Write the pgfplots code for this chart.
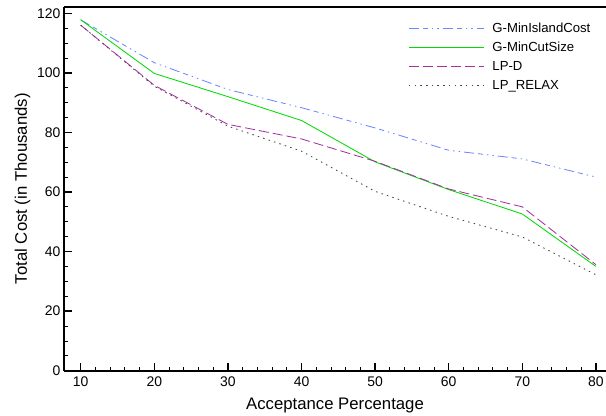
\documentclass[border=0pt]{standalone}
\usepackage{pgfplots}
\pgfplotsset{compat=1.18}
\usepackage{fontspec}
\setmainfont{Liberation Sans}
\definecolor{cblue}{RGB}{110,135,255}
\definecolor{cgreen}{RGB}{0,220,0}
\definecolor{cpurple}{RGB}{165,50,165}
\definecolor{cdot}{RGB}{70,70,70}
\begin{document}
\begin{tikzpicture}
\begin{axis}[
  at={(0,0)}, anchor=south west,
  scale only axis, width=542bp, height=364bp,
  xmin=7.73, xmax=81.37, ymin=0, ymax=122.2,
  axis x line*=bottom, axis y line*=left,
  axis line style={-, line width=1.8pt},
  xtick={10,20,...,80}, minor x tick num=4,
  ytick={0,20,...,120}, minor y tick num=3,
  tick align=inside,
  major tick length=8bp, minor tick length=4bp,
  major tick style={line width=1.4pt, black},
  minor tick style={line width=0.8pt, black},
  /pgf/number format/assume math mode=true,
  ticklabel style={font=\fontsize{14}{14}\selectfont},
  xticklabel style={yshift=-3bp},
  xlabel={Acceptance Percentage},
  ylabel={Total Cost (in Thousands)},
  label style={font=\fontsize{16.8}{18}\selectfont},
  xlabel style={yshift=-4bp},
  legend style={at={(axis description cs:0.635,0.9615)}, anchor=north west,
    draw=none, fill=none, inner sep=0pt, row sep=4.2bp,
    font=\fontsize{13.2}{13.2}\selectfont,
    nodes={inner sep=2pt},
    /tikz/every odd column/.append style={column sep=6bp}},
  legend cell align=left,
  legend image code/.code={\draw[#1, line width=1.1pt] plot coordinates {(0bp,0bp) (75bp,0bp)};},
  every axis plot/.append style={line width=0.85pt},
  clip=false,
]
\addplot[color=cblue, dash pattern=on 10bp off 4bp on 5bp off 4bp on 1.5bp off 4bp on 1.5bp off 4bp] coordinates {
 (10,117.8) (20,103.4) (30,94.4) (40,88.3) (50,81.5) (60,74.0) (70,71.1) (80,65.0)};
\addlegendentry{G-MinIslandCost}
\addplot[draw=cgreen, solid] coordinates {
 (10,117.8) (20,99.8) (30,92.0) (40,84.0) (50,70.1) (60,60.8) (70,52.6) (80,35.0)};
\addlegendentry{G-MinCutSize}
\addplot[color=cpurple, dash pattern=on 10bp off 4bp] coordinates {
 (10,116.0) (20,95.8) (30,82.7) (40,77.8) (50,70.3) (60,61.0) (70,55.0) (80,35.6)};
\addlegendentry{LP-D}
\addplot[color=cdot, dash pattern=on 1.5bp off 4.2bp] coordinates {
 (10,116.0) (20,95.5) (30,82.1) (40,73.7) (50,60.2) (60,51.8) (70,44.9) (80,32.2)};
\addlegendentry{LP\_RELAX}
\draw[line width=1.8pt] (rel axis cs:0,1) -- (rel axis cs:1,1);
\end{axis}
\pgfresetboundingbox
\path[use as bounding box] (-64bp,-45.3bp) rectangle (542bp,370.7bp);
\end{tikzpicture}
\end{document}
